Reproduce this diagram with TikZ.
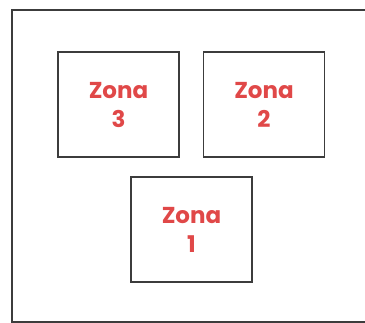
\documentclass[tikz,border=0pt]{standalone}
\usepackage{fontspec}
\setmainfont{Poppins}
\definecolor{zred}{RGB}{224,72,72}
\definecolor{zgray}{RGB}{60,60,60}
\begin{document}
\begin{tikzpicture}[x=1pt,y=-1pt,
  zone/.style={draw=zgray, line width=1.5pt, minimum width=121pt, minimum height=105pt,
    inner sep=0pt, text=zred, align=center,
    font=\fontsize{23}{29}\selectfont\bfseries}]
\useasboundingbox (0,0) rectangle (365,323);
\begin{scope}
\clip (0,0) rectangle (365,323);
\draw[zgray, line width=2pt] (12,10) rectangle (380,322);
\end{scope}
\node[zone] (z3) at (118.5,104.5) {Zona\\3};
\node[zone] (z2) at (264,104.5) {Zona\\2};
\node[zone] (z1) at (191.5,229.5) {Zona\\1};
\end{tikzpicture}
\end{document}
